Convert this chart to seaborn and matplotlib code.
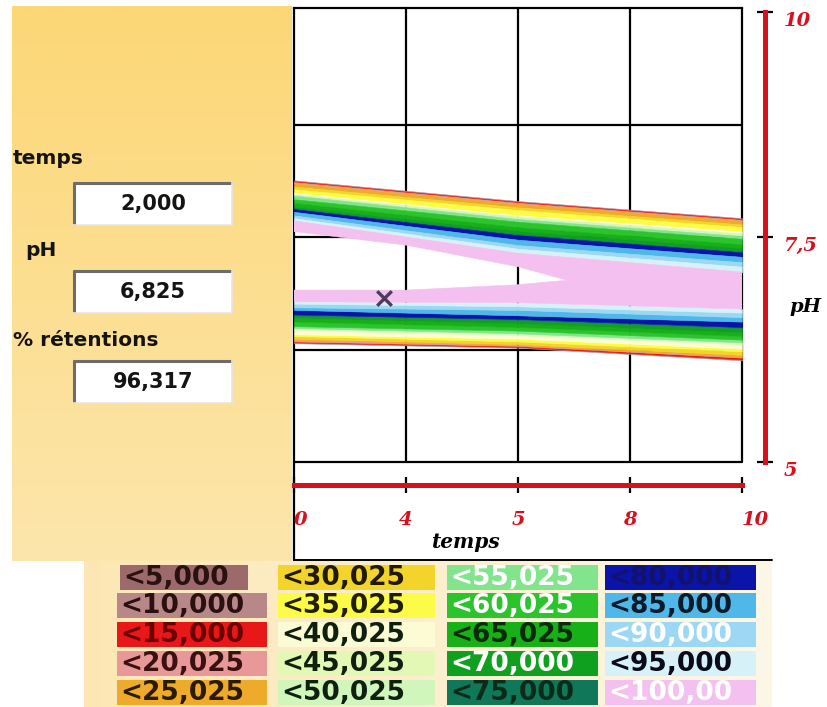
import numpy as np
import matplotlib
matplotlib.use("Agg")
import matplotlib.pyplot as plt
from matplotlib.patches import Rectangle
import seaborn as sns

# ---------------------------------------------------------------- data
# retention classes (upper bound of each colour class) and their colours
LEVEL_LABELS = ["<5,000", "<10,000", "<15,000", "<20,025", "<25,025",
                "<30,025", "<35,025", "<40,025", "<45,025", "<50,025",
                "<55,025", "<60,025", "<65,025", "<70,000", "<75,000",
                "<80,000", "<85,000", "<90,000", "<95,000", "<100,00"]
LEVEL_COLORS = ["#9c6a6a", "#b88888", "#e81818", "#e89898", "#eeaa2a",
                "#f2d42a", "#fcfc48", "#fcfcd4", "#e2f8b4", "#d0f6bc",
                "#82e48c", "#2cc42c", "#18b018", "#10a020", "#107858",
                "#0a14a8", "#50b8e8", "#9cd8f4", "#d6f2f8", "#f4c0f0"]
LEVEL_TEXT = ["#2a1010", "#2a1010", "#6a0000", "#3a1010", "#2a1a00",
              "#201a00", "#202000", "#102010", "#102010", "#102010",
              "#ffffff", "#ffffff", "#0a2a0a", "#ffffff", "#0a2a1a",
              "#12126a", "#0a1a2a", "#ffffff", "#0a0a1a", "#ffffff"]

# time columns at which the iso-retention pH values are given
TIME_COLS = [0, 5, 10]

# pH of the 5, 10, ..., 95 % iso-retention lines, upper (alkaline) side
UPPER_T0 = [8.13, 8.12, 8.11, 8.10, 8.06, 8.03, 7.99, 7.98, 7.97, 7.96,
            7.92, 7.88, 7.84, 7.82, 7.81, 7.78, 7.74, 7.71, 7.68]
UPPER_T5 = [7.90, 7.89, 7.88, 7.87, 7.83, 7.80, 7.74, 7.73, 7.72, 7.70,
            7.67, 7.61, 7.57, 7.53, 7.52, 7.47, 7.41, 7.37, 7.32]
UPPER_T10 = [7.71, 7.70, 7.69, 7.68, 7.64, 7.61, 7.56, 7.54, 7.53, 7.51,
             7.48, 7.42, 7.38, 7.34, 7.33, 7.28, 7.22, 7.17, 7.11]

# same lines on the lower (acid) side
LOWER_T0 = [6.32, 6.33, 6.34, 6.36, 6.37, 6.40, 6.42, 6.47, 6.48, 6.49,
            6.51, 6.56, 6.60, 6.63, 6.64, 6.69, 6.72, 6.76, 6.78]
LOWER_T5 = [6.27, 6.28, 6.29, 6.30, 6.31, 6.34, 6.37, 6.41, 6.42, 6.43,
            6.46, 6.50, 6.54, 6.58, 6.59, 6.63, 6.69, 6.73, 6.77]
LOWER_T10 = [6.13, 6.14, 6.16, 6.17, 6.19, 6.23, 6.26, 6.31, 6.32, 6.33,
             6.36, 6.40, 6.44, 6.49, 6.50, 6.56, 6.61, 6.66, 6.70]

# 100 % core, closing at its tip
CORE_TIME = [0, 2.5, 5, 6.1]
CORE_UPPER = [7.56, 7.41, 7.17, 7.02]
CORE_LOWER = [6.91, 6.91, 6.97, 7.02]

# selected point
SEL_TIME = 2.0
SEL_PH = 6.825
SEL_RET = 96.317

X_TICKS = [0, 2.5, 5, 7.5, 10]
X_TICKLABELS = ["0", "4", "5", "8", "10"]
Y_TICKS = [5, 7.5, 10]
Y_TICKLABELS = ["5", "7,5", "10"]
Y_GRID = [5, 6.25, 7.5, 8.75]

# ---------------------------------------------------------------- style
sns.set_theme(style="white")
plt.rcParams["font.family"] = ["DejaVu Sans"]

RED = "#d8101e"
W, H = 827, 707
fig = plt.figure(figsize=(W / 100, H / 100), dpi=100)
fig.patch.set_facecolor("white")

# pixel-space canvas for the surrounding panels
canvas = fig.add_axes([0, 0, 1, 1], zorder=0)
canvas.axis("off")

# left control panel with a soft vertical gradient
g = np.linspace(0, 1, 256)[:, None, None]
top_c = np.array([252, 215, 118]) / 255
bot_c = np.array([252, 230, 172]) / 255
canvas.imshow(top_c * (1 - g) + bot_c * g, extent=[12, 292, 561, 6],
              aspect="auto", interpolation="bilinear", zorder=0)

# legend strip background, fading to the right
h = np.linspace(0, 1, 256)[None, :, None]
l_c = np.array([252, 231, 180]) / 255
r_c = np.array([253, 247, 232]) / 255
canvas.imshow(l_c * (1 - h) + r_c * h, extent=[84, 772, 707, 561],
              aspect="auto", interpolation="bilinear", zorder=0)

# frame lines around the chart panel
canvas.plot([294, 294], [462, 560], color="black", lw=1.6, zorder=1)
canvas.plot([294, 772], [560, 560], color="black", lw=1.4, zorder=1)


def fmt(v):
    return f"{v:.3f}".replace(".", ",")


# read-out fields
fields = [("temps", 13, 159, 182, SEL_TIME),
          ("pH", 25, 250, 270, SEL_PH),
          ("% rétentions", 13, 340, 360, SEL_RET)]
for name, lx, ly, by, val in fields:
    canvas.text(lx, ly, name, ha="left", va="center", fontsize=14.5,
                fontweight="bold", color="#141414", zorder=3)
    canvas.add_patch(Rectangle((73, by), 159, 43, fc="white", ec="none",
                               zorder=2))
    canvas.plot([73, 232], [by + 1, by + 1], color="#6c6c6c", lw=2.2,
                zorder=3, solid_capstyle="butt")
    canvas.plot([74, 74], [by, by + 43], color="#6c6c6c", lw=2.2,
                zorder=3, solid_capstyle="butt")
    canvas.plot([73, 232], [by + 43, by + 43], color="#e6e6e6", lw=1.2,
                zorder=3)
    canvas.plot([232, 232], [by, by + 43], color="#e6e6e6", lw=1.2,
                zorder=3)
    canvas.text(153, by + 22, fmt(val), ha="center", va="center",
                fontsize=15, fontweight="bold", color="#141414", zorder=4)

# colour key: 4 columns x 5 rows
COL_X = [117, 278, 447, 605]
COL_W = [150, 157, 151, 151]
ROW_Y = [565, 593, 622, 651, 680]
for i, (lab, col, tc) in enumerate(zip(LEVEL_LABELS, LEVEL_COLORS,
                                       LEVEL_TEXT)):
    c, r = divmod(i, 5)
    x0 = COL_X[c] + (3 if i == 0 else 0)
    w = 128 if i == 0 else COL_W[c]
    canvas.add_patch(Rectangle((x0, ROW_Y[r]), w, 25, fc=col, ec="none",
                               zorder=2))
    canvas.text(x0 + 3, ROW_Y[r] + 13, lab, ha="left", va="center",
                fontsize=19, fontweight="bold", color=tc, zorder=3)

# axis titles
canvas.text(465, 542, "temps", ha="center", va="center", fontsize=14.5,
            fontfamily="DejaVu Serif", fontstyle="italic",
            fontweight="bold", color="black")
canvas.text(806, 307, "pH", ha="center", va="center", fontsize=14,
            fontfamily="DejaVu Serif", fontstyle="italic",
            fontweight="bold", color="black")

canvas.set_xlim(0, W)
canvas.set_ylim(H, 0)

# ---------------------------------------------------------------- chart
ax = fig.add_axes([294 / W, (H - 462) / H, 448 / W, 454 / H], zorder=2)
ax.set_facecolor("white")

# grid under the bands
for t in X_TICKS:
    ax.axvline(t, color="black", lw=1.6, zorder=0.5, clip_on=False)
for p in Y_GRID:
    ax.axhline(p, color="black", lw=1.6, zorder=0.5, clip_on=False)

upper = np.array([UPPER_T0, UPPER_T5, UPPER_T10])
lower = np.array([LOWER_T0, LOWER_T5, LOWER_T10])
n_b = upper.shape[1]
for j in range(n_b - 1):
    colr = LEVEL_COLORS[j + 1]
    ax.fill_between(TIME_COLS, upper[:, j], upper[:, j + 1], color=colr,
                    lw=0.4, edgecolor=colr, zorder=1)
    ax.fill_between(TIME_COLS, lower[:, j], lower[:, j + 1], color=colr,
                    lw=0.4, edgecolor=colr, zorder=1)

# 95-100 % band, with the 100 % core left open
px = (list(TIME_COLS) + list(TIME_COLS[::-1]) + list(CORE_TIME)
      + list(CORE_TIME[-2::-1]))
py = (list(upper[:, -1]) + list(lower[::-1, -1]) + list(CORE_LOWER)
      + list(CORE_UPPER[-2::-1]))
ax.fill(px, py, color=LEVEL_COLORS[-1], lw=0.4, edgecolor=LEVEL_COLORS[-1],
        zorder=1)

# selected point
sns.scatterplot(x=[SEL_TIME], y=[SEL_PH], marker="x", s=110,
                color="#4b3b5e", linewidth=2.4, ax=ax, zorder=6,
                legend=False)

ax.set_xlim(0, 10)
ax.set_ylim(5, 10.045)
ax.set_xlabel("")
ax.set_ylabel("")

# spines: red scales offset from the grid
ax.spines["left"].set_visible(False)
ax.spines["top"].set_color("black")
ax.spines["top"].set_linewidth(1.6)
ax.spines["bottom"].set_position(("outward", 16.5))
ax.spines["bottom"].set_color(RED)
ax.spines["bottom"].set_linewidth(3.6)
ax.spines["right"].set_position(("outward", 16.5))
ax.spines["right"].set_color(RED)
ax.spines["right"].set_linewidth(3.6)
ax.spines["right"].set_bounds(5, 10)

lab_font = dict(fontfamily="DejaVu Serif", fontstyle="italic",
                fontweight="bold", fontsize=14)
ax.set_xticks(X_TICKS, labels=X_TICKLABELS, **lab_font)
xl = ax.get_xticklabels()
xl[0].set_horizontalalignment("left")
xl[-1].set_horizontalalignment("left")
ax.yaxis.tick_right()
ax.set_yticks(Y_TICKS, labels=Y_TICKLABELS, va="top", **lab_font)
ax.tick_params(axis="x", bottom=True, top=False, direction="inout",
               length=11.5, width=1.6, color="black", labelcolor=RED,
               pad=13)
ax.tick_params(axis="y", left=False, right=True, labelleft=False,
               labelright=True, direction="inout", length=11.5, width=1.6,
               color="black", labelcolor=RED, pad=8)

fig.savefig("out.png", dpi=100)
